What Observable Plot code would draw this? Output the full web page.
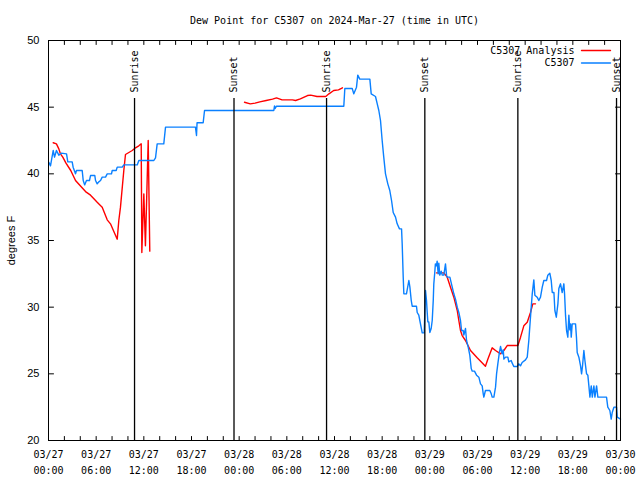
<!DOCTYPE html>
<html><head><meta charset="utf-8">
<script src="https://cdn.jsdelivr.net/npm/d3@7"></script>
<script src="https://cdn.jsdelivr.net/npm/@observablehq/plot@0.6"></script>
<style>body{margin:0;background:#fff}#chart{width:640px;height:480px}</style>
</head><body><div id="chart"></div>
<script>
const titleText = "Dew Point for C5307 on 2024-Mar-27 (time in UTC)";
const yLabel = "degrees F";
const startUTC = Date.UTC(2024, 2, 27);
const endHours = 72;
const seriesNames = ["C5307 Analysis", "C5307"];
const seriesColors = ["#ff0000", "#0a80ff"];

// C5307 observations (hours after 03/27 00:00 UTC, degrees F)
const obsHours = [0.04,0.25,0.59,0.76,1.0,1.3,1.6,2.27,2.43,2.98,3.1,3.4,3.52,4.24,4.37,4.55,4.78,5.16,5.29,5.83,5.92,6.13,6.33,6.55,6.76,7.18,7.39,7.93,8.02,8.52,8.65,9.28,9.48,11.17,11.37,13.26,13.47,13.68,14.51,14.73,18.5,18.63,18.7,19.47,19.64,28.36,28.45,28.53,28.7,37.17,37.3,38.23,38.43,38.77,38.93,39.18,40.45,40.62,41.16,41.38,41.58,41.79,42.0,42.2,42.42,42.71,42.96,43.18,43.39,43.68,43.89,44.18,44.44,44.52,44.65,44.73,45.06,45.36,45.49,45.66,45.78,46.32,46.41,46.61,46.74,46.92,47.04,47.29,47.46,47.58,47.67,47.75,47.87,48.0,48.17,48.3,48.43,48.5,48.62,48.7,48.83,48.92,49.05,49.13,49.25,49.43,49.56,49.76,49.97,50.1,50.19,50.52,50.82,51.02,51.23,51.45,51.65,51.86,51.99,52.2,52.28,52.49,52.62,52.83,53.03,53.21,53.34,53.62,53.88,54.17,54.38,54.59,54.72,54.8,55.0,55.55,55.73,55.85,56.06,56.27,56.4,56.56,56.73,56.9,57.11,57.24,57.32,57.53,57.82,57.94,58.24,58.37,58.57,59.0,59.2,59.41,59.62,60.04,60.26,60.46,60.67,60.89,61.09,61.22,61.51,61.72,61.93,62.15,62.35,62.69,62.85,63.1,63.28,63.41,63.62,63.74,63.92,64.12,64.24,64.45,64.66,64.87,64.96,65.08,65.21,65.37,65.5,65.62,65.71,65.8,65.92,66.34,66.46,66.55,66.76,66.97,67.1,67.22,67.39,67.52,67.73,67.89,68.02,68.15,68.32,68.45,68.65,68.78,68.99,69.15,70.24,70.4,70.66,70.83,70.96,71.17,71.5,71.59,72.0];
const obsValues = [40.87,40.6,41.75,41.25,41.75,41.4,41.55,41.5,40.9,40.9,40.5,40.0,40.25,40.25,39.5,39.17,39.5,39.5,39.87,39.87,39.5,39.25,39.4,39.5,39.75,39.75,40.0,40.0,40.25,40.25,40.5,40.5,40.67,40.67,41.0,41.0,41.2,42.25,42.25,43.5,43.5,42.88,43.83,43.83,44.75,44.75,45.1,44.9,45.07,45.07,46.4,46.4,46.0,46.5,47.4,47.1,47.1,46.0,45.8,45.25,44.75,44.0,42.5,41.25,40.0,39.25,38.75,38.0,37.1,36.75,36.25,35.87,35.87,34.75,32.25,31.0,31.0,32.0,31.5,30.5,30.07,30.07,29.6,29.4,29.0,28.45,28.07,28.07,31.25,30.5,29.6,28.9,28.9,28.1,28.4,29.0,30.5,31.75,32.6,33.25,33.1,33.45,32.5,33.3,32.4,32.7,32.4,32.4,33.25,32.4,32.25,32.25,31.5,31.0,30.6,30.0,29.6,29.0,28.25,28.25,27.9,28.4,27.5,27.0,26.4,25.4,25.2,25.2,24.9,24.75,24.25,24.1,23.5,23.25,23.75,23.75,23.5,23.25,23.25,24.0,25.0,25.75,26.5,27.05,26.5,26.8,26.1,26.25,26.25,25.9,26.0,25.8,25.55,25.55,25.75,25.6,25.85,26.05,26.25,27.5,29.25,31.0,32.05,30.9,30.75,30.5,30.75,31.5,32.0,32.0,32.4,32.55,32.0,31.1,31.1,29.75,29.25,30.25,31.4,31.75,31.1,31.75,31.0,29.4,28.25,27.75,29.4,28.3,28.75,27.75,28.75,28.75,27.7,26.6,26.25,25.6,25.0,25.6,26.75,26.0,25.0,24.9,24.1,23.25,24.1,23.25,24.1,23.25,24.1,23.25,23.25,22.5,22.25,21.6,22.1,22.5,22.5,21.75,21.6];

// C5307 Analysis (three separate runs)
const anaHours = [0.59,1.0,1.3,1.5,1.8,2.2,2.8,3.4,4.0,4.66,5.29,6.13,6.76,7.39,7.8,8.43,8.65,8.85,9.06,9.48,9.69,10.54,10.95,11.37,11.67,11.75,12.0,12.2,12.55,12.75,
  24.67,25.4,26.0,26.6,27.4,28.2,28.7,29.4,30.7,31.1,31.7,32.6,33.0,33.8,34.9,35.3,35.9,36.5,37.0,
  48.84,49.76,50.19,50.6,51.02,51.45,51.65,51.86,52.07,52.49,53.12,53.96,55.0,55.3,55.85,56.27,56.9,57.32,57.74,59.08,59.42,59.83,60.26,60.67,60.96,61.3];
const anaValues = [42.33,42.25,41.87,41.5,41.25,40.8,40.25,39.5,39.1,38.67,38.4,37.87,37.5,36.55,36.25,35.4,35.1,36.5,37.5,40.25,41.45,41.75,41.95,42.1,42.25,34.1,38.5,34.6,42.5,34.2,
  45.37,45.25,45.3,45.4,45.5,45.6,45.7,45.55,45.55,45.5,45.62,45.87,45.9,45.8,45.8,46.0,46.25,46.3,46.45,
  32.57,32.57,32.25,31.5,30.75,29.75,29.0,28.25,27.87,27.5,26.75,26.2,25.57,26.1,26.95,26.75,26.5,26.75,27.12,27.12,27.75,28.6,28.87,29.6,30.25,30.25];
const anaRun = [1,1,1,1,1,1,1,1,1,1,1,1,1,1,1,1,1,1,1,1,1,1,1,1,1,1,1,1,1,1,
  2,2,2,2,2,2,2,2,2,2,2,2,2,2,2,2,2,2,2,
  3,3,3,3,3,3,3,3,3,3,3,3,3,3,3,3,3,3,3,3,3,3,3,3,3,3];

// Sun events (hours after 03/27 00:00 UTC)
const sunHours = [10.83, 23.35, 35.0, 47.37, 59.08, 71.5];
const sunLabels = ["Sunrise", "Sunset", "Sunrise", "Sunset", "Sunrise", "Sunset"];

const yTicks = [20, 25, 30, 35, 40, 45, 50];
const xMinorStepHours = 2;
const xLabelStepHours = 6;

const toDate = h => new Date(startUTC + h * 3600e3);
const obs = obsHours.map((h, i) => ({t: toDate(h), v: obsValues[i]}));
const ana = anaHours.map((h, i) => ({t: toDate(h), v: anaValues[i], run: anaRun[i]}));
const sun = sunHours.map((h, i) => ({t: toDate(h), label: sunLabels[i]}));
const minorTicks = d3.range(0, endHours + 0.1, xMinorStepHours).map(toDate);
const labelTicks = d3.range(0, endHours + 0.1, xLabelStepHours).map(toDate);
const fmt = d3.utcFormat("%m/%d\n%H:%M");
const lineShape = {draw(ctx, l) { ctx.moveTo(0, 0); ctx.lineTo(0, -l); }};
const tick = (data, opts) => Plot.vector(data, {anchor: "start", shape: lineShape, stroke: "black", strokeWidth: 1, ...opts});

const chart = Plot.plot({
  width: 640, height: 480,
  marginLeft: 48, marginRight: 20, marginTop: 40, marginBottom: 40,
  style: {fontFamily: "DejaVu Sans Mono", fontSize: "10px", background: "white", color: "black"},
  x: {type: "utc", domain: [toDate(0), toDate(endHours)]},
  y: {domain: [20, 50]},
  marks: [
    Plot.line(ana, {x: "t", y: "v", z: "run", stroke: seriesColors[0], strokeWidth: 1.4}),
    Plot.line(obs, {x: "t", y: "v", stroke: seriesColors[1], strokeWidth: 1.4}),
    Plot.ruleX(sun, {x: "t", insetTop: 58, stroke: "black", strokeWidth: 1.3}),
    Plot.text(sun, {x: "t", text: "label", frameAnchor: "top", dy: 52, rotate: -90, textAnchor: "start", lineAnchor: "middle", fill: "black"}),
    Plot.frame({stroke: "black"}),
    tick(minorTicks, {x: d => d, frameAnchor: "bottom", rotate: 0, length: 4}),
    tick(minorTicks, {x: d => d, frameAnchor: "top", rotate: 180, length: 4}),
    tick(yTicks, {y: d => d, frameAnchor: "left", rotate: 90, length: 5}),
    tick(yTicks, {y: d => d, frameAnchor: "right", rotate: -90, length: 5}),
    Plot.axisX({anchor: "bottom", ticks: labelTicks, tickSize: 0, tickPadding: 6, tickFormat: fmt, lineHeight: 1.6, label: null}),
    Plot.axisY({anchor: "left", ticks: yTicks, tickSize: 0, tickPadding: 9, fontFamily: "Liberation Sans", fontSize: 11,
      label: yLabel, labelAnchor: "center", labelArrow: "none", labelOffset: 41}),
    Plot.text([titleText], {frameAnchor: "top", dy: -20, lineAnchor: "middle", fill: "black"}),
    Plot.text([seriesNames[0]], {frameAnchor: "top-right", dx: -46, dy: 10, textAnchor: "end", lineAnchor: "middle", fill: "black"}),
    Plot.text([seriesNames[1]], {frameAnchor: "top-right", dx: -46, dy: 22.5, textAnchor: "end", lineAnchor: "middle", fill: "black"}),
    Plot.vector([0], {frameAnchor: "top-right", dx: -10, dy: 10, length: 29, rotate: 90, anchor: "end", shape: lineShape, stroke: seriesColors[0], strokeWidth: 1.4}),
    Plot.vector([0], {frameAnchor: "top-right", dx: -10, dy: 22.5, length: 29, rotate: 90, anchor: "end", shape: lineShape, stroke: seriesColors[1], strokeWidth: 1.4})
  ]
});
document.getElementById("chart").appendChild(chart);
</script>
</body></html>
